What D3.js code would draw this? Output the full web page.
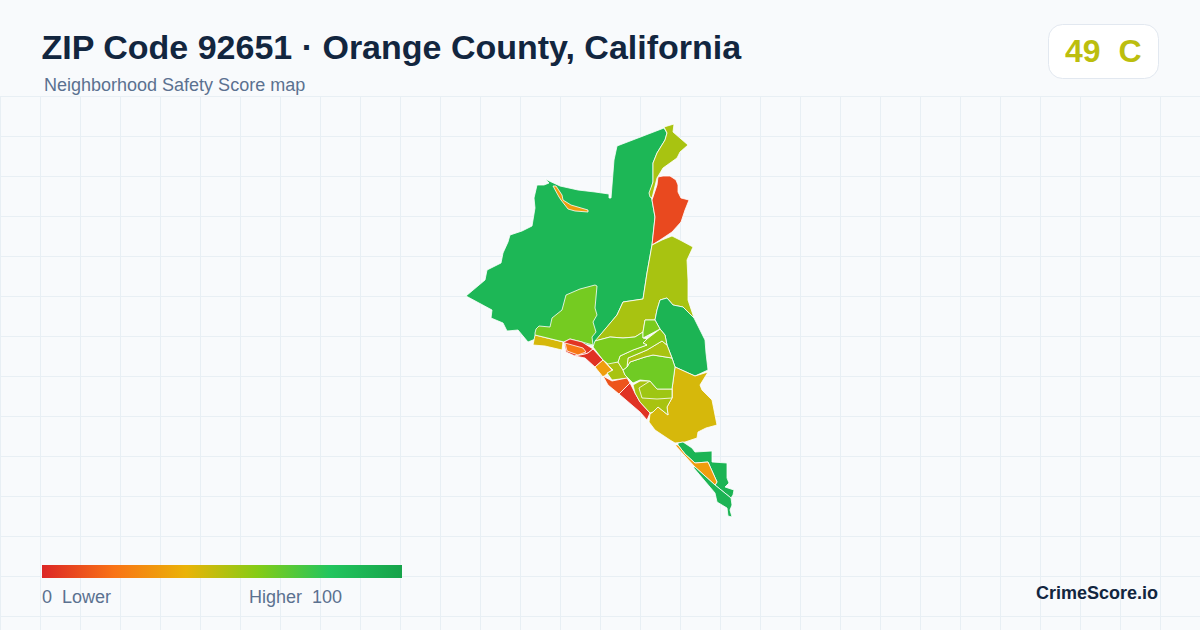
<!DOCTYPE html>
<html>
<head>
<meta charset="utf-8">
<script src="https://cdn.jsdelivr.net/npm/d3@7/dist/d3.min.js"></script>
<style>
html,body{margin:0;padding:0;background:#f8fafc;}
svg{display:block;font-family:"Liberation Sans",Arial,sans-serif;}
text{white-space:pre;}
</style>
</head>
<body>
<svg id="chart" width="1200" height="630"></svg>
<script>
const titleText = "ZIP Code 92651 · Orange County, California";
const subtitleText = "Neighborhood Safety Score map";
const overallScore = 49;
const overallGrade = "C";
const legendLow = "0  Lower";
const legendHigh = "Higher  100";
const brandText = "CrimeScore.io";

const stopValues = [0, 20, 40, 60, 80, 100];
const stopColors = ["#dc2626", "#f97316", "#eab308", "#84cc16", "#22c55e", "#16a34a"];

const regionScores = [88, 33, 53, 9, 53, 90, 44, 44, 63, 4, 22, 3, 33, 53, 12, 3, 53, 55, 64, 53, 58, 62, 62, 90, 33, 90];

const regionRings = [
  [[664,128],[617,146],[614,160],[611,198],[609,198],[609,194],[595,192],[578,190],[560,186],[545,179],[549,183],[544,185],[539,185],[537,185],[534,198],[535,208],[532,226],[522,231],[510,235],[508,242],[503,253],[501,263],[487,270],[485,280],[466,296],[492,310],[491,318],[503,323],[507,331],[518,330],[528,342],[538,338],[597,346],[598,338],[617,315],[623,302],[643,299],[647,273],[652,245],[655,217],[652,200],[650,193],[653,182],[653,163],[657,153],[665,140],[667,133]],
  [[553,186],[556,186],[562,195],[563,200],[571,205],[588,210],[588,212],[575,211],[568,209],[561,200],[559,197]],
  [[664,127],[674,124],[673,132],[688,145],[680,152],[677,158],[663,168],[657,178],[654,190],[652,198],[650,197],[649,193],[653,182],[653,163],[657,153],[665,140],[667,133]],
  [[658,177],[663,176],[670,176],[676,180],[678,185],[678,192],[681,198],[689,200],[685,210],[681,222],[672,232],[660,240],[652,245],[655,217],[652,200],[657,185]],
  [[652,245],[662,240],[672,236],[680,240],[693,247],[687,260],[688,280],[688,300],[694,318],[683,307],[673,305],[667,298],[660,300],[657,310],[655,320],[645,320],[643,332],[635,337],[623,338],[610,337],[595,341],[617,315],[623,302],[643,299],[647,273]],
  [[667,298],[673,305],[683,307],[694,318],[705,340],[706,353],[708,370],[695,376],[675,367],[672,358],[667,345],[665,335],[660,329],[655,320],[657,310],[660,300]],
  [[675,367],[695,376],[708,372],[700,385],[702,390],[712,400],[717,425],[706,428],[698,432],[697,438],[685,442],[675,443],[670,440],[655,430],[649,422],[650,414],[653,412],[658,407],[668,415],[667,407],[672,398],[672,389]],
  [[535,335],[563,342],[562,350],[545,346],[533,345]],
  [[536,329],[539,326],[550,327],[552,318],[562,310],[566,295],[580,289],[595,285],[597,286],[595,308],[597,315],[593,322],[596,332],[592,337],[593,345],[582,342],[570,339],[564,342],[535,335],[535,333]],
  [[564,342],[570,339],[582,342],[593,349],[588,353],[585,354],[575,356],[566,352]],
  [[565,343],[583,348],[586,352],[578,355],[567,351]],
  [[593,349],[603,360],[595,367],[585,358],[575,356],[585,354],[588,353]],
  [[603,360],[612,370],[603,377],[595,367]],
  [[605,362],[618,362],[623,370],[625,375],[628,378],[612,380],[607,373],[613,370]],
  [[603,376],[612,381],[627,378],[630,383],[619,394],[608,385]],
  [[630,383],[635,393],[640,402],[650,413],[647,420],[640,412],[619,394]],
  [[633,385],[640,381],[650,381],[657,389],[672,389],[672,398],[667,407],[668,415],[658,407],[653,412],[650,413],[640,402],[635,393]],
  [[639,388],[650,381],[657,389],[672,389],[672,398],[657,399],[642,398]],
  [[627,367],[630,362],[645,357],[653,355],[672,358],[675,367],[672,389],[657,389],[650,381],[640,380],[633,383],[628,378],[625,375],[623,370]],
  [[628,358],[647,350],[662,341],[667,345],[672,358],[653,355],[645,357],[630,362],[627,367]],
  [[620,356],[633,350],[647,345],[643,343],[647,339],[660,329],[665,335],[667,345],[662,341],[647,350],[628,358],[627,367],[623,370],[618,362]],
  [[593,347],[595,341],[610,337],[623,338],[635,337],[643,332],[643,338],[647,339],[643,343],[647,345],[633,350],[620,356],[618,362],[608,364],[603,360]],
  [[643,332],[645,320],[655,320],[660,329],[643,338]],
  [[678,443],[683,442],[692,448],[695,452],[712,451],[712,462],[727,463],[727,478],[729,483],[725,487],[734,490],[733,495],[731,498],[715,485],[717,482],[708,462],[695,463],[685,454],[678,445]],
  [[675,445],[678,445],[685,454],[695,463],[708,462],[717,482],[715,485],[695,467]],
  [[695,467],[715,485],[731,498],[732,505],[730,510],[732,517],[728,516],[727,508],[717,502],[715,493],[693,467]]
];

const svg = d3.select("#chart");
const W = 1200, H = 630;
const color = d3.scaleLinear().domain(stopValues).range(stopColors).interpolate(d3.interpolateRgb).clamp(true);

// grid
const gridX = d3.range(0.5, W, 40);
const gridY = d3.range(96.5, H, 40);
const grid = svg.append("g").attr("stroke", "#e8eff4").attr("stroke-width", 1);
grid.selectAll("line.v").data(gridX).join("line").attr("class", "v")
  .attr("x1", d => d).attr("x2", d => d).attr("y1", 96).attr("y2", H);
grid.selectAll("line.h").data(gridY).join("line").attr("class", "h")
  .attr("x1", 0).attr("x2", W).attr("y1", d => d).attr("y2", d => d);

// map
const features = regionRings.map((ring, i) => ({
  type: "Feature",
  properties: { score: regionScores[i] },
  geometry: { type: "Polygon", coordinates: [ring.concat([ring[0]])] }
}));
const path = d3.geoPath(d3.geoIdentity());
svg.append("g").selectAll("path").data(features).join("path")
  .attr("d", path)
  .attr("fill", d => color(d.properties.score))
  .attr("stroke", "#ffffff")
  .attr("stroke-width", 0.8)
  .attr("stroke-linejoin", "round");

// header
svg.append("text").attr("x", 41.5).attr("y", 59)
  .attr("font-size", 34).attr("font-weight", 700).attr("fill", "#12263f").text(titleText);
svg.append("text").attr("x", 44).attr("y", 91)
  .attr("font-size", 18).attr("fill", "#5b7190").text(subtitleText);

// badge
svg.append("rect").attr("x", 1048.5).attr("y", 24.5).attr("width", 110).attr("height", 54).attr("rx", 14)
  .attr("fill", "#ffffff").attr("stroke", "#e2e8f0");
svg.append("text").attr("x", 1065).attr("y", 62)
  .attr("font-size", 32).attr("font-weight", 700).attr("fill", color(overallScore))
  .text(overallScore + "  " + overallGrade);

// legend
const defs = svg.append("defs");
const grad = defs.append("linearGradient").attr("id", "lg");
grad.selectAll("stop").data(stopValues).join("stop")
  .attr("offset", d => d + "%").attr("stop-color", d => color(d));
svg.append("rect").attr("x", 42).attr("y", 565).attr("width", 360).attr("height", 13).attr("fill", "url(#lg)");
svg.append("text").attr("x", 42).attr("y", 603).attr("font-size", 18).attr("fill", "#5b7190").text(legendLow);
svg.append("text").attr("x", 342).attr("y", 603).attr("text-anchor", "end").attr("font-size", 18).attr("fill", "#5b7190").text(legendHigh);

svg.append("text").attr("x", 1158).attr("y", 599).attr("text-anchor", "end")
  .attr("font-size", 18).attr("font-weight", 700).attr("fill", "#12263f").text(brandText);
</script>
</body>
</html>
